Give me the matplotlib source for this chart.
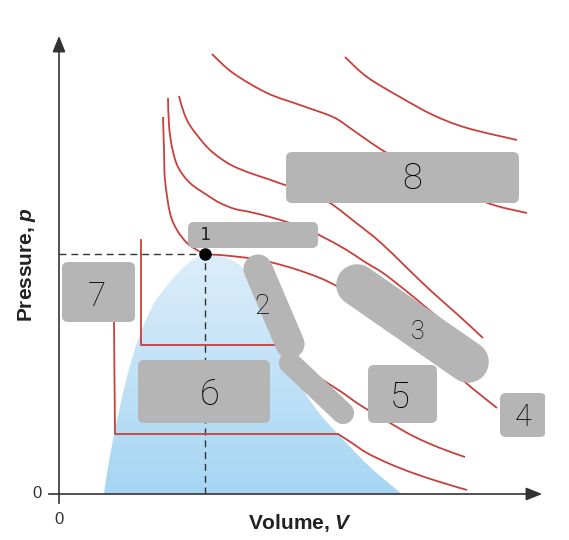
import numpy as np
import matplotlib
matplotlib.use("Agg")
import matplotlib.pyplot as plt
from matplotlib.patches import FancyBboxPatch, PathPatch
from matplotlib.path import Path

plt.rcParams['font.family'] = ['Liberation Sans', 'DejaVu Sans']
plt.rcParams['mathtext.fontset'] = 'custom'
plt.rcParams['mathtext.bfit'] = 'Liberation Sans:bold:italic'

# isotherms (V, p), lowest temperature first
iso1_v = [1.08, 1.10, 1.12, 5.58, 5.86, 6.16, 6.62, 7.08, 7.62, 8.16]
iso1_p = [4.18, 3.44, 1.20, 1.20, 1.02, 0.82, 0.60, 0.42, 0.24, 0.08]

iso2_v = [1.64, 1.64, 4.42, 4.58, 4.76, 5.12, 5.62, 6.02, 6.52, 7.08, 7.62, 8.12]
iso2_p = [5.08, 2.98, 2.98, 2.82, 2.64, 2.38, 2.06, 1.78, 1.48, 1.16, 0.92, 0.74]

# critical isotherm
iso3_v = [2.08, 2.10, 2.12, 2.22, 2.36, 2.56, 2.76, 2.92, 3.22, 3.62, 3.92,
          4.22, 4.72, 5.22, 5.62, 6.12, 6.72, 7.22, 7.76, 8.26, 8.76]
iso3_p = [7.54, 6.88, 6.28, 5.62, 5.28, 5.02, 4.88, 4.80, 4.78, 4.74, 4.70,
          4.64, 4.50, 4.32, 4.12, 3.78, 3.34, 2.96, 2.54, 2.12, 1.72]

iso4_v = [2.18, 2.20, 2.26, 2.38, 2.62, 2.96, 3.22, 3.52, 3.82, 4.22, 4.62, 4.96,
          5.28, 5.72, 6.12, 6.48, 6.92, 7.38, 7.82, 8.18, 8.56]
iso4_p = [7.92, 7.38, 6.94, 6.54, 6.22, 5.98, 5.82, 5.70, 5.64, 5.54, 5.42, 5.30,
          5.14, 4.90, 4.64, 4.42, 4.08, 3.70, 3.32, 2.98, 2.64]

iso5_v = [2.40, 2.50, 2.64, 2.96, 3.22, 3.48, 3.82, 4.18, 4.52, 4.92, 5.42, 5.92,
          6.42, 6.92, 7.42, 7.96, 8.48]
iso5_p = [7.96, 7.62, 7.34, 6.94, 6.72, 6.56, 6.42, 6.30, 6.18, 6.06, 5.82, 5.44,
          5.04, 4.56, 4.08, 3.60, 3.12]

iso6_v = [3.06, 3.48, 4.16, 4.82, 5.48, 5.82, 6.16, 6.56, 7.42, 8.22, 8.76, 9.36]
iso6_p = [8.80, 8.42, 8.02, 7.78, 7.54, 7.32, 7.08, 6.82, 6.34, 5.96, 5.76, 5.62]

iso7_v = [5.72, 6.16, 6.82, 7.48, 8.16, 9.16]
iso7_p = [8.74, 8.34, 7.94, 7.58, 7.32, 7.08]

# liquid-vapour coexistence dome
dome_v = [0.90, 0.96, 1.08, 1.22, 1.38, 1.58, 1.86, 2.12, 2.36, 2.62, 2.92,
          3.22, 3.52, 3.82, 4.06, 4.26, 4.42, 4.66, 4.92, 5.22, 5.56, 5.92,
          6.22, 6.54, 6.86]
dome_p = [0.00, 0.42, 1.08, 1.74, 2.42, 3.08, 3.74, 4.12, 4.40, 4.64, 4.80,
          4.76, 4.64, 4.38, 3.98, 3.48, 2.98, 2.48, 2.02, 1.60, 1.22, 0.84,
          0.54, 0.26, 0.00]

crit_v, crit_p = 2.92, 4.80

red = '#c8403c'
grey = '#b5b5b5'
axcol = '#333333'


def smooth_path(v, p):
    # Catmull-Rom curve through the points, drawn as cubic Bezier segments
    pts = np.column_stack([v, p])
    ext = np.vstack([pts[0], pts, pts[-1]])
    verts = [pts[0]]
    codes = [Path.MOVETO]
    for i in range(1, len(ext) - 2):
        p0, p1, p2, p3 = ext[i - 1], ext[i], ext[i + 1], ext[i + 2]
        verts += [p1 + (p2 - p0) / 6, p2 - (p3 - p1) / 6, p2]
        codes += [Path.CURVE4] * 3
    return Path(verts, codes)


def draw_iso(ax, v, p, n_straight=0):
    if n_straight:
        ax.plot(v[:n_straight + 1], p[:n_straight + 1], color=red, lw=1.3, zorder=3)
        v, p = v[n_straight:], p[n_straight:]
    ax.add_patch(PathPatch(smooth_path(v, p), facecolor='none', edgecolor=red,
                           lw=1.3, zorder=3))


fig = plt.figure(figsize=(5.69, 5.40), dpi=100)
ax = fig.add_axes([59 / 569, 46 / 540, 486 / 569, 461 / 540])
ax.set_xlim(0, 9.72)
ax.set_ylim(0, 9.22)
ax.axis('off')

# dome with vertical gradient
dome = PathPatch(smooth_path(dome_v, dome_p), facecolor='none', edgecolor='none')
ax.add_patch(dome)
grad = np.linspace(0, 1, 256).reshape(-1, 1)
cmap = matplotlib.colors.LinearSegmentedColormap.from_list('dome', ['#a6d6f3', '#dcedfa'])
im = ax.imshow(grad, cmap=cmap, origin='lower', aspect='auto',
               extent=(min(dome_v), max(dome_v), 0, crit_p), zorder=1)
im.set_clip_path(dome)

draw_iso(ax, iso1_v, iso1_p, n_straight=3)
draw_iso(ax, iso2_v, iso2_p, n_straight=2)
for v, p in [(iso3_v, iso3_p), (iso4_v, iso4_p), (iso5_v, iso5_p),
             (iso6_v, iso6_p), (iso7_v, iso7_p)]:
    draw_iso(ax, v, p)

# dashed guides to the critical point
ax.plot([0, crit_v], [crit_p, crit_p], color=axcol, lw=1.0, ls=(0, (5, 3.5)), zorder=2)
ax.plot([crit_v, crit_v], [0, crit_p], color=axcol, lw=1.0, ls=(0, (5, 3.5)), zorder=2)
ax.plot(crit_v, crit_p, 'o', color='black', ms=8, zorder=4)

# axes with arrows
ax.plot([-0.2, 9.6], [0, 0], color=axcol, lw=1.2, clip_on=False, zorder=2)
ax.plot([0, 0], [-0.18, 9.1], color=axcol, lw=1.2, clip_on=False, zorder=2)
ax.annotate('', xy=(9.72, 0), xytext=(9.4, 0),
            arrowprops=dict(arrowstyle='-|>,head_length=0.7,head_width=0.28',
                            color=axcol, lw=1.2, mutation_scale=14), annotation_clip=False)
ax.annotate('', xy=(0, 9.22), xytext=(0, 8.9),
            arrowprops=dict(arrowstyle='-|>,head_length=0.7,head_width=0.28',
                            color=axcol, lw=1.2, mutation_scale=14), annotation_clip=False)

ax.text(-0.44, 0, '0', ha='center', va='center', fontsize=12, color=axcol)
ax.text(0, -0.5, '0', ha='center', va='center', fontsize=12, color=axcol)
ax.text(4.82, -0.58, 'Volume, $\\mathbfit{V}$', ha='center', va='center',
        fontsize=15, fontweight='bold', color='#222222')
ax.text(-0.64, 4.6, 'Pressure, $\\mathbfit{p}$', ha='center', va='center', rotation=90,
        fontsize=15, fontweight='bold', color='#222222')


# grey cover boxes
def box(x0, y0, x1, y1):
    ax.add_patch(FancyBboxPatch((x0, y0), x1 - x0, y1 - y0,
                                boxstyle='round,pad=0,rounding_size=0.12',
                                facecolor=grey, edgecolor='none', zorder=5))


box(2.58, 4.92, 5.18, 5.44)   # 1
box(0.06, 3.44, 1.52, 4.64)   # 7
box(1.58, 1.42, 4.22, 2.68)   # 6
box(6.18, 1.42, 7.56, 2.58)   # 5
box(8.82, 1.14, 9.74, 2.02)   # 4
box(4.54, 5.82, 9.20, 6.84)   # 8
ax.plot([3.98, 4.62], [4.50, 3.00], color=grey, lw=21, solid_capstyle='round', zorder=5)
ax.plot([4.62, 5.68], [2.62, 1.62], color=grey, lw=16, solid_capstyle='round', zorder=5)
ax.plot([5.96, 8.18], [4.18, 2.64], color=grey, lw=30, solid_capstyle='round', zorder=5)

hand = dict(family=['Roboto', 'DejaVu Sans'], fontweight='light', color='black',
            ha='center', va='center', zorder=6)
ax.text(2.92, 5.18, '1', family='DejaVu Sans Mono', fontsize=13, color='#222222',
        ha='center', va='center', zorder=6)
ax.text(4.06, 3.74, '2', fontsize=20, **hand)
ax.text(7.18, 3.24, '3', fontsize=18, **hand)
ax.text(9.28, 1.52, '4', fontsize=22, **hand)
ax.text(6.82, 1.92, '5', fontsize=26, **hand)
ax.text(3.02, 1.98, '6', fontsize=26, **hand)
ax.text(0.76, 3.94, '7', fontsize=24, **hand)
ax.text(7.06, 6.30, '8', fontsize=26, **hand)

fig.savefig('out.png', dpi=100)
